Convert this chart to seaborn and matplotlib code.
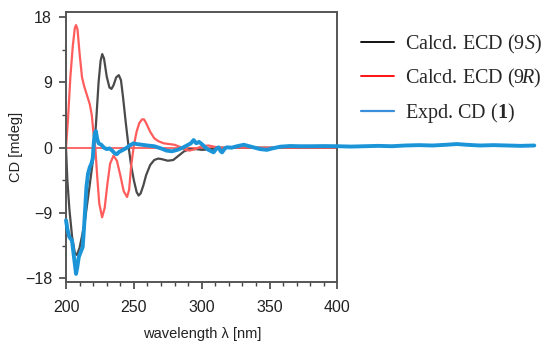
import numpy as np
import pandas as pd
import matplotlib
matplotlib.use("Agg")
import matplotlib.pyplot as plt
import seaborn as sns
from matplotlib.lines import Line2D
from matplotlib.ticker import MultipleLocator

# ---- data ----
wl_9s = [200, 201, 202.5, 204.5, 206.5, 208, 210, 212, 214, 216, 218, 220, 222, 224, 225.5,
         226.7, 228, 230, 232, 233.5, 235, 237, 238.9, 240.5, 242, 244, 246, 248, 250, 252,
         253.5, 255, 257, 259, 262, 265, 268, 271, 275, 279, 283, 287, 291, 296, 300, 305,
         310, 315, 400]
cd_9s = [0, -4.5, -8.5, -12.3, -14.5, -14.8, -13.8, -12, -10, -7.2, -4.4, -1.5, 3, 9, 12,
         12.9, 12.3, 9.8, 8.3, 8.1, 8.6, 9.7, 10.0, 9.3, 7, 3.5, 0.3, -2.5, -4.5, -6.1,
         -6.6, -6.3, -5.2, -3.8, -2.4, -1.7, -1.5, -1.6, -1.8, -1.7, -1.1, -0.5, -0.2, -0.2, -0.3, -0.25,
         -0.1, 0, 0]

wl_9r = [200, 201.5, 203.2, 205, 206.5, 207.4, 208.5, 210, 211.8, 213.5, 215.5, 217.5, 219,
         220.5, 221.6, 223, 224.5, 226.6, 228.5, 230.5, 232.5, 235, 237.5, 240, 242.5, 245,
         246.5, 248, 250, 252, 254, 256, 257.5, 259, 262, 265, 268, 272, 276, 280, 284, 288,
         291, 295, 300, 305, 310, 315, 400]
cd_9r = [0, 4, 9.7, 14, 16.5, 16.9, 16.3, 13, 9.7, 8.4, 7.2, 6, 4.5,
         1.5, 0, -4, -7.7, -9.6, -8.3, -5, -2.2, -1.1, -1.8, -3.8, -6, -6.8,
         -5.8, -2.5, 0.3, 2.2, 3.4, 3.9, 3.9, 3.4, 2.2, 1.3, 0.9, 0.6, 0.5, 0.4, 0.1, -0.3,
         -0.4, -0.2, 0.2, 0.3, 0.1, 0, 0]

wl_exp = [200, 201, 202.4, 204.4, 205.5, 207.4, 208.3, 209.4, 211, 212.3, 213.3, 214.2, 215,
          216.2, 217.5, 218.7, 219.7, 220.4, 221.2, 222, 223, 224, 226, 228, 230, 232, 234,
          236, 237.4, 239, 241, 244, 247, 249.7, 252, 256, 260, 265, 270, 274, 278, 282, 286,
          289, 292, 294, 296, 298, 300, 302.6, 305, 308.7, 310.5, 312.4, 314, 315, 317, 318.6,
          322, 326, 331, 335, 338, 343, 348, 352, 358, 365, 372, 380, 390, 400, 410, 420, 430,
          440, 450, 460, 470, 480, 488, 495, 505, 515, 525, 535, 545]
cd_exp = [-10, -11.2, -12.3, -12.8, -14.5, -17.4, -16.5, -15.1, -14.3, -13.7, -11, -8.2, -5.5,
          -3.6, -2.7, -2.2, -1.5, 0.5, 2.0, 2.3, 1.2, 0.6, 0.4, 0.0, -0.2, -0.1, -0.4,
          -0.8, -0.9, -0.6, -0.4, -0.1, 0.3, 0.6, 0.5, 0.4, 0.3, 0.2, -0.1, -0.4, -0.5, -0.3, 0,
          0.3, 0.6, 1.05, 0.6, 0.8, 0.5, 0.05, -0.3, -0.65, -0.2, 0.05, -0.5, -0.65, -0.1, 0.05,
          0, 0.2, 0.4, 0.2, 0.05, -0.2, -0.3, -0.1, 0.14, 0.23, 0.2, 0.2, 0.22, 0.2, 0.15, 0.2, 0.25,
          0.2, 0.3, 0.35, 0.3, 0.4, 0.5, 0.4, 0.3, 0.35, 0.3, 0.25, 0.3]

labels = ["Calcd. ECD ($\\mathit{9S}$)", "Calcd. ECD ($\\mathit{9R}$)", "Expd. CD ($\\mathbf{1}$)"]
x_ticks = [200, 250, 300, 350, 400]
y_ticks = [-18, -9, 0, 9, 18]

# ---- style ----
sns.set_style("white")
plt.rcParams["font.family"] = ["Liberation Sans", "DejaVu Sans"]
plt.rcParams["mathtext.fontset"] = "custom"
plt.rcParams["mathtext.rm"] = "Liberation Serif"
plt.rcParams["mathtext.it"] = "Liberation Serif:italic"
plt.rcParams["mathtext.bf"] = "Liberation Serif:bold"

fig = plt.figure(figsize=(5.5, 3.46), dpi=100)
ax = fig.add_axes([0.12, 0.186, 0.4936, 0.779])

c_black = "#4a4a4a"
c_red = "#ff5c5c"
c_blue = "#1b95d8"

ax.axhline(0, color=c_red, lw=1.3, zorder=1)
sns.lineplot(x=wl_9s, y=cd_9s, ax=ax, color=c_black, lw=1.6, sort=False, zorder=2)
sns.lineplot(x=wl_9r, y=cd_9r, ax=ax, color=c_red, lw=1.6, sort=False, zorder=2)
sns.lineplot(x=wl_exp, y=cd_exp, ax=ax, color=c_blue, lw=2.8, sort=False, zorder=3, clip_on=False)

ax.set_xlim(200, 400)
ax.set_ylim(-18.47, 18.69)
ax.set_xticks(x_ticks)
ax.set_yticks(y_ticks)
ax.xaxis.set_minor_locator(MultipleLocator(10))
ax.yaxis.set_minor_locator(MultipleLocator(4.5))
ax.tick_params(axis="both", which="major", direction="out", length=5, width=1.2,
               color="#444444", labelsize=11.5, labelcolor="#222222")
ax.tick_params(axis="x", which="major", pad=8)
ax.tick_params(axis="y", which="major", pad=5)
ax.tick_params(axis="both", which="minor", direction="out", length=3, width=1.0, color="#444444")
ax.tick_params(bottom=True, left=True, which="both")
for s in ax.spines.values():
    s.set_color("#555555")
    s.set_linewidth(1.4)

ax.set_xlabel("wavelength λ [nm]", fontsize=10.5, color="#222222", labelpad=9)
ax.set_ylabel("CD [mdeg]", fontsize=10.5, color="#222222", labelpad=1)

handles = [Line2D([], [], color="black", lw=1.3),
           Line2D([], [], color="red", lw=1.3),
           Line2D([], [], color="#3a8fdc", lw=1.6)]
fig.legend(handles, labels, loc="upper left", bbox_to_anchor=(0.657, 0.905),
           frameon=False, borderpad=0, borderaxespad=0, handlelength=1.6,
           handletextpad=0.55, labelspacing=0.55,
           prop={"family": "Liberation Serif", "size": 14.5})

fig.savefig("out.png", dpi=100)
